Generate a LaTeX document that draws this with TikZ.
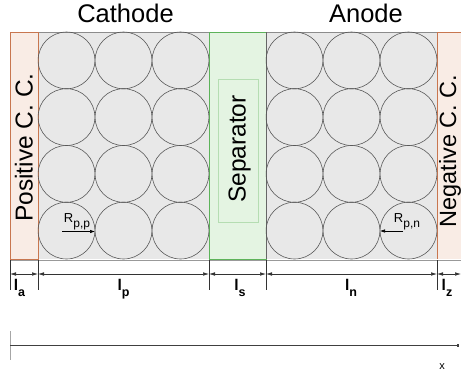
\documentclass[tikz,border=0pt]{standalone}
\usepackage{fontspec}
\setmainfont{Liberation Sans}
\usetikzlibrary{arrows.meta}
\definecolor{ccfill}{HTML}{F9ECE5}
\definecolor{ccline}{HTML}{C8764F}
\definecolor{sepfill}{HTML}{E4F4E2}
\definecolor{sepline}{HTML}{5DB35A}
\definecolor{sepinner}{HTML}{B5DDB2}
\definecolor{elfill}{HTML}{E8E8E8}
\definecolor{dimcol}{HTML}{333333}
\newcommand{\dimsub}[1]{\raisebox{-6pt}{\fontsize{12.5}{14}\selectfont\bfseries #1}}
\newcommand{\rsub}[1]{\raisebox{-5.5pt}{\fontsize{12}{14}\selectfont #1}}
\begin{document}
\begin{tikzpicture}[x=1pt,y=-1pt,
  title/.style={font=\fontsize{25.5}{30}\selectfont, inner sep=0pt, anchor=base},
  vlabel/.style={font=\fontsize{24.5}{28}\selectfont, inner sep=0pt, rotate=90, anchor=base},
  particle/.style={draw=black!65, line width=0.6pt},
  dimline/.style={draw=dimcol, line width=0.5pt, {Latex[length=6pt,width=3.5pt]}-{Latex[length=6pt,width=3.5pt]}},
  tick/.style={draw=dimcol, line width=0.6pt},
  dimlabel/.style={font=\fontsize{15.5}{18}\selectfont\bfseries, inner sep=0pt, anchor=base},
  rlabel/.style={font=\fontsize{13}{15}\selectfont, inner sep=0pt, anchor=base},
  rarrow/.style={draw=black, line width=0.6pt, -{Latex[length=5pt,width=3.5pt]}}]
\useasboundingbox (0,0) rectangle (461,375);
% regions
\fill[elfill] (38,32) rectangle (209,259);
\fill[elfill] (266,32) rectangle (437,259);
\draw[black!45, line width=0.5pt] (38,32) -- (209,32) (266,32) -- (437,32);
\filldraw[fill=ccfill, draw=ccline, line width=0.6pt] (10,32) rectangle (38,259);
\fill[ccfill] (437,32) rectangle (461,259);
\draw[ccline, line width=0.6pt] (461,32) -- (437,32) -- (437,259);
\filldraw[fill=sepfill, draw=sepline, line width=0.6pt] (209,32) rectangle (266,259);
\draw[black!60, line width=0.6pt] (266,32) -- (266,259);
\draw[sepinner, line width=0.6pt] (218,79) rectangle (258,222);
% particles
\foreach \cx in {66.5,123.5,180.5,294.5,351.5,408.5}
  \foreach \cy in {60.4,117.1,173.9,230.6}
    \draw[particle] (\cx,\cy) circle[radius=28.4];
\draw[black!40, line width=0.6pt] (10,260) -- (461,260);
% texts
\node[title] (cathode) at (125.5,22) {Cathode};
\node[title] (anode) at (366,22) {Anode};
\node[vlabel] (pcc) at (32.5,147.5) {Positive C.\ C.};
\node[vlabel, font=\fontsize{23.5}{28}\selectfont] (ncc) at (456,151) {Negative C.\ C.};
\node[vlabel] (sep) at (245.5,149) {Separator};
% radii
\coordinate (rpp0) at (62,231.5);
\coordinate (rpp1) at (95,231.5);
\draw[rarrow] (rpp0) -- (rpp1);
\node[rlabel] (rpp) at (77,222) {R\rsub{p,p}};
\coordinate (rpn0) at (403,231);
\coordinate (rpn1) at (380,231);
\draw[rarrow] (rpn0) -- (rpn1);
\node[rlabel] (rpn) at (407,222) {R\rsub{p,n}};
% dimensions
\foreach \xx/\nm in {10/b0,38/b1,209/b2,266/b3,437/b4,461/b5}
  \coordinate (\nm) at (\xx,274);
\foreach \xx in {10,38,209,266,437}
  \draw[tick] (\xx,260) -- (\xx,290);
\draw[dimline] (b0) -- (b1);
\draw[dimline] (b1) -- (b2);
\draw[dimline] (b2) -- (b3);
\draw[dimline] (b3) -- (b4);
\draw[dimline] (b4) -- (b5);
\node[dimlabel] (la) at (19.5,290) {l\dimsub{a}};
\node[dimlabel] (lp) at (123.5,290) {l\dimsub{p}};
\node[dimlabel] (ls) at (240,290) {l\dimsub{s}};
\node[dimlabel] (ln) at (351,290) {l\dimsub{n}};
\node[dimlabel] (lz) at (447,290) {l\dimsub{z}};
% axis
\coordinate (ax0) at (10,345);
\coordinate (ax1) at (459,345);
\draw[black!35, line width=0.8pt] (10,331) -- (10,360);
\draw[black!75, line width=0.6pt, -{Square[length=2.5pt,width=2.5pt]}] (ax0) -- (ax1);
\node[font=\fontsize{11}{13}\selectfont, inner sep=0pt, anchor=base] (xl) at (442,369) {x};
\end{tikzpicture}
\end{document}
